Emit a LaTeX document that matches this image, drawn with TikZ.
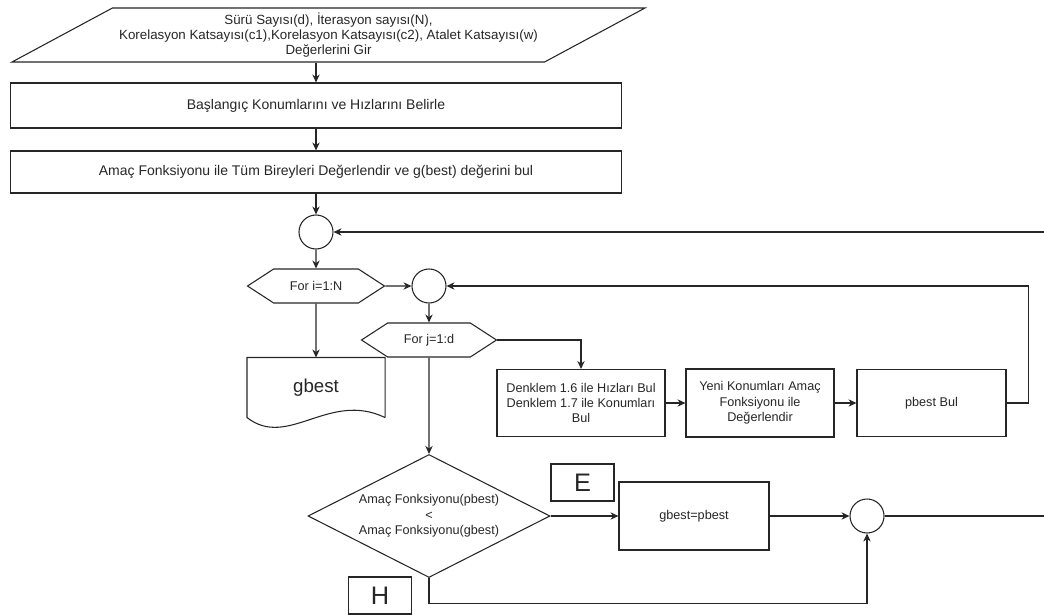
\documentclass[tikz,border=0pt]{standalone}
\usepackage{fontspec}
\setmainfont{Liberation Sans}
\usetikzlibrary{shapes.geometric,shapes.symbols,arrows.meta}

\begin{document}
\begin{tikzpicture}[x=0.75pt,y=-0.75pt,line width=0.8pt,color=black!85,
  font=\fontsize{9.5}{11.5}\selectfont,
  procbox/.style={draw,rectangle,align=center,inner sep=2pt},
  widebox/.style={procbox,minimum width=458.25pt,font=\fontsize{10.5}{12}\selectfont},
  joint/.style={draw,circle,minimum size=25.5pt,inner sep=0pt},
  forhex/.style={draw,signal,signal to=west and east,signal pointer angle=66,minimum height=25.5pt,inner sep=1pt},
  tagbox/.style={draw,rectangle,minimum width=47.25pt,minimum height=27.75pt,inner sep=0pt,font=\fontsize{19}{22}\selectfont},
  arr/.style={-{Stealth[length=6pt,width=5.5pt]}}]
\useasboundingbox (0,0) rectangle (1044,614);

\node (inp) [draw,trapezium,trapezium left angle=23.5,trapezium right angle=156.5,trapezium stretches body,minimum width=474.75pt,minimum height=40.5pt,inner sep=0pt,align=center,font=\fontsize{10}{11}\selectfont] at (328.5,35) {Sürü Sayısı(d), İterasyon sayısı(N),\\Korelasyon Katsayısı(c1),Korelasyon Katsayısı(c2), Atalet Katsayısı(w)\\Değerlerini Gir};
\node (init) [widebox,minimum height=33.75pt] at (316,105.5) {Başlangıç Konumlarını ve Hızlarını Belirle};
\node (eval) [widebox,minimum height=31.5pt] at (316,172) {Amaç Fonksiyonu ile Tüm Bireyleri Değerlendir ve g(best) değerini bul};
\node (c1) [joint] at (316,232) {};
\node (fori) [forhex,minimum width=102.75pt] at (316,286) {For i=1:N};
\node (c2) [joint] at (429,286) {};
\node (forj) [forhex,minimum width=101.25pt] at (429,340) {For j=1:d};
\node (hiz) [procbox,minimum width=126pt,minimum height=50.25pt,inner sep=1pt] at (581,403) {Denklem 1.6 ile Hızları Bul\\Denklem 1.7 ile Konumları\\Bul};
\node (yeni) [procbox,minimum width=111pt,minimum height=51pt] at (760,403) {Yeni Konumları Amaç\\Fonksiyonu ile\\Değerlendir};
\node (pb) [procbox,minimum width=111.75pt,minimum height=50.25pt] at (931.5,403) {pbest Bul};
\node (gb) [minimum width=102.75pt,minimum height=44.25pt,font=\fontsize{14}{16}\selectfont] at (316,387.5) {gbest};
\draw (gb.south east) -- (gb.north east) -- (gb.north west) -- (gb.south west) .. controls ([shift={(41,32)}]gb.south west) and ([shift={(-56,-27)}]gb.south east) .. (gb.south east);
\node (cmp) [draw,diamond,aspect=2,inner sep=0pt,minimum width=181.5pt,minimum height=92.25pt,align=center] at (429,516) {Amaç Fonksiyonu(pbest)\\<\\Amaç Fonksiyonu(gbest)};
\node (upd) [procbox,minimum width=112.5pt,minimum height=51pt] at (694,516) {gbest=pbest};
\node (c3) [joint] at (867,516) {};
\node (evet) [tagbox] at (582.5,482.5) {E};
\node (hayir) [tagbox] at (380,595.5) {H};
\coordinate (ust) at (1044,232);
\coordinate (alt) at (1044,516);

\draw[arr] (inp.south -| init.north) -- (init);
\draw[arr] (init) -- (eval);
\draw[arr] (eval) -- (c1);
\draw[arr] (c1) -- (fori);
\draw[arr] (fori) -- (gb);
\draw[arr] (fori) -- (c2);
\draw[arr] (c2) -- (forj);
\draw[arr] (forj) -| (hiz);
\draw[arr] (hiz) -- (yeni);
\draw[arr] (yeni) -- (pb);
\draw[arr] (pb.east) -- ++(22,0) |- (c2);
\draw[arr] (forj) -- (cmp);
\draw[arr] (cmp) -- (upd);
\draw[arr] (upd) -- (c3);
\draw[arr] (cmp.south) -- ++(0,25) -| (c3);
\draw (c3) -- (alt);
\draw[arr] (ust) -- (c1);
\end{tikzpicture}
\end{document}
